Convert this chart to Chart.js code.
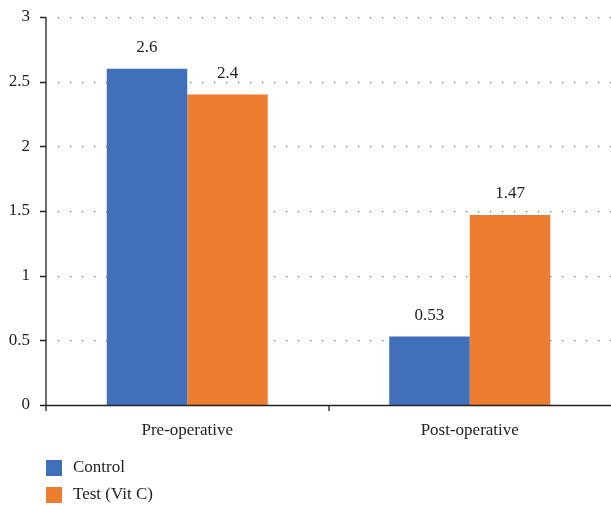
<!DOCTYPE html>
<html>
<head>
<meta charset="utf-8">
<script src="https://cdn.jsdelivr.net/npm/chart.js@4/dist/chart.umd.min.js"></script>
<style>
  html, body { margin: 0; padding: 0; background: #fff; }
  #wrap { width: 611px; height: 505px; position: relative; }
</style>
</head>
<body>
<div id="wrap"><canvas id="c" width="611" height="505"></canvas></div>
<script>
const categories = ['Pre-operative', 'Post-operative'];
const controlValues = [2.6, 0.53];
const testValues = [2.4, 1.47];
const seriesNames = ['Control', 'Test (Vit C)'];
const yTicks = [0, 0.5, 1, 1.5, 2, 2.5, 3];
const yTickLabels = ['0', '0.5', '1', '1.5', '2', '2.5', '3'];

const FONT = "'Liberation Serif', 'DejaVu Serif', serif";
const BLUE = '#4070BA';
const ORANGE = '#ED7D31';

// Value labels above each bar
const valueLabels = {
  id: 'valueLabels',
  afterDatasetsDraw(chart) {
    const ctx = chart.ctx;
    ctx.save();
    ctx.font = '17px ' + FONT;
    ctx.fillStyle = '#222';
    ctx.textAlign = 'center';
    ctx.textBaseline = 'middle';
    chart.data.datasets.forEach((ds, i) => {
      chart.getDatasetMeta(i).data.forEach((bar, j) => {
        ctx.fillText(String(ds.data[j]), bar.x, bar.y - 21);
      });
    });
    ctx.restore();
  }
};

// Dotted horizontal gridlines, axis lines and tick marks
const axesDraw = {
  id: 'axesDraw',
  beforeDatasetsDraw(chart) {
    const ctx = chart.ctx;
    const y = chart.scales.y;
    const a = chart.chartArea;
    ctx.save();
    ctx.fillStyle = '#777';
    yTicks.forEach(v => {
      if (v === 0) return;
      const py = Math.round(y.getPixelForValue(v));
      for (let px = a.left + 12; px < a.right; px += 12) {
        ctx.fillRect(px, py, 1.3, 1.3);
      }
    });
    ctx.restore();
  },
  afterDatasetsDraw(chart) {
    const ctx = chart.ctx;
    const y = chart.scales.y;
    const a = chart.chartArea;
    ctx.save();
    ctx.strokeStyle = '#222';
    ctx.lineWidth = 1.3;
    ctx.beginPath();
    ctx.moveTo(a.left, a.top);
    ctx.lineTo(a.left, a.bottom);
    yTicks.forEach(v => {
      const py = Math.round(y.getPixelForValue(v)) + 0.5;
      ctx.moveTo(a.left - 6, py);
      ctx.lineTo(a.left, py);
    });
    ctx.moveTo(a.left - 6, Math.round(a.bottom) + 0.5);
    ctx.lineTo(a.right, Math.round(a.bottom) + 0.5);
    const n = categories.length;
    const w = (a.right - a.left) / n;
    for (let i = 0; i < n; i++) {
      const px = Math.round(a.left + i * w);
      ctx.moveTo(px, a.bottom);
      ctx.lineTo(px, a.bottom + 6);
    }
    ctx.stroke();
    ctx.restore();
  }
};

// Vertical legend under the plot
const bottomLegend = {
  id: 'bottomLegend',
  afterDraw(chart) {
    const ctx = chart.ctx;
    ctx.save();
    ctx.font = '17px ' + FONT;
    ctx.textBaseline = 'middle';
    chart.data.datasets.forEach((ds, i) => {
      const cy = 468 + i * 27;
      ctx.fillStyle = ds.backgroundColor;
      ctx.fillRect(46, cy - 8, 16, 16);
      ctx.fillStyle = '#222';
      ctx.fillText(ds.label, 73, cy);
    });
    ctx.restore();
  }
};

new Chart(document.getElementById('c'), {
  type: 'bar',
  data: {
    labels: categories,
    datasets: [
      { label: seriesNames[0], data: controlValues, backgroundColor: BLUE },
      { label: seriesNames[1], data: testValues, backgroundColor: ORANGE }
    ]
  },
  options: {
    responsive: false,
    animation: false,
    layout: { padding: { top: 17, right: -3, left: 0, bottom: 0 } },
    plugins: { legend: { display: false }, tooltip: { enabled: false } },
    datasets: { bar: { barPercentage: 1, categoryPercentage: 0.570 } },
    scales: {
      x: {
        grid: { display: false, drawTicks: false },
        border: { display: false },
        ticks: { color: '#222', font: { family: FONT, size: 17 }, padding: 15 },
        afterFit(s) { s.height = 100; s.paddingLeft = 0; s.paddingRight = 0; }
      },
      y: {
        min: 0, max: 3,
        afterBuildTicks(s) { s.ticks = yTicks.map(v => ({ value: v })); },
        grid: { display: false, drawTicks: false },
        border: { display: false },
        ticks: {
          color: '#222', font: { family: FONT, size: 17 }, padding: 16,
          callback: (v, i) => yTickLabels[i]
        },
        afterFit(s) { s.width = 46; s.paddingTop = 0; s.paddingBottom = 0; }
      }
    }
  },
  plugins: [axesDraw, valueLabels, bottomLegend]
});
</script>
</body>
</html>
